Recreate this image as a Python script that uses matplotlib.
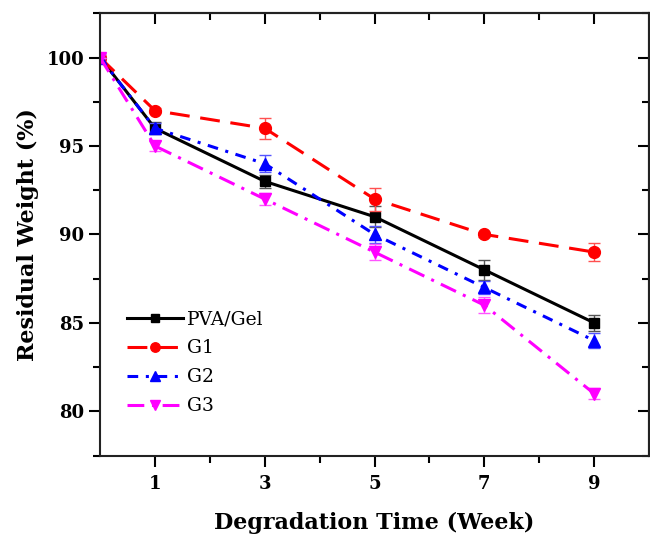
import matplotlib
matplotlib.use("Agg")
import matplotlib.pyplot as plt
from matplotlib.ticker import MultipleLocator, FixedLocator

weeks = [0, 1, 3, 5, 7, 9]
series_names = ["PVA/Gel", "G1", "G2", "G3"]
pva_gel = [100, 96, 93, 91, 88, 85]
g1 = [100, 97, 96, 92, 90, 89]
g2 = [100, 96, 94, 90, 87, 84]
g3 = [100, 95, 92, 89, 86, 81]
pva_gel_err = [0, 0.35, 0.35, 0.6, 0.58, 0.45]
g1_err = [0, 0.15, 0.6, 0.65, 0.15, 0.5]
g2_err = [0, 0.3, 0.5, 0.47, 0.38, 0.45]
g3_err = [0, 0.3, 0.35, 0.47, 0.45, 0.33]
x_tick_labels = ["1", "3", "5", "7", "9"]

plt.rcParams['font.family'] = ['DejaVu Serif']

fig = plt.figure(figsize=(6.5, 5.37), dpi=100)
ax = fig.add_axes([100/650, 1 - 455.5/537, 549/650, (455.5 - 13.3)/537])

styles = [
    dict(color="black", ls="-", marker="s", ms=7.5, ecolor="#555555"),
    dict(color="red", ls=(0, (6.5, 3.5)), marker="o", ms=8.5, ecolor="#ff5050"),
    dict(color="blue", ls=(0, (3.5, 2.5, 1, 2.5)), marker="^", ms=8.5, ecolor="#5555ff"),
    dict(color="magenta", ls=(0, (5.5, 2.5, 1, 2.5)), marker="v", ms=8.5, ecolor="#ff55ff"),
]
data = [pva_gel, g1, g2, g3]
errs = [pva_gel_err, g1_err, g2_err, g3_err]

handles = []
for name, y, e, st in zip(series_names, data, errs, styles):
    ax.errorbar(weeks, y, yerr=e, fmt="none", ecolor=st["ecolor"],
                elinewidth=1.0, capsize=4, capthick=1.0)
    h, = ax.plot(weeks, y, color=st["color"], ls=st["ls"], lw=2.2,
                 marker=st["marker"], ms=st["ms"], label=name)
    handles.append(h)

ax.set_xlim(0, 10)
ax.set_ylim(77.5, 102.5)
ax.xaxis.set_major_locator(FixedLocator([1, 3, 5, 7, 9]))
ax.set_xticklabels(x_tick_labels)
ax.xaxis.set_minor_locator(FixedLocator([2, 4, 6, 8]))
ax.yaxis.set_major_locator(MultipleLocator(5))
ax.yaxis.set_minor_locator(MultipleLocator(2.5))

for sp in ax.spines.values():
    sp.set_linewidth(1.5)
    sp.set_color("#222222")

ax.tick_params(axis="both", which="major", direction="out", length=8, width=1.5,
               labelsize=13)
ax.tick_params(axis="x", which="major", pad=6)
ax.tick_params(axis="both", which="minor", direction="out", length=5, width=1.5)
for lab in ax.get_xticklabels() + ax.get_yticklabels():
    lab.set_fontweight("bold")

# inward ticks on top and right
axt = ax.secondary_xaxis("top")
axt.xaxis.set_major_locator(FixedLocator([1, 3, 5, 7, 9]))
axt.xaxis.set_minor_locator(FixedLocator([2, 4, 6, 8]))
axt.tick_params(which="major", direction="in", length=8, width=1.5, labeltop=False)
axt.tick_params(which="minor", direction="in", length=5, width=1.5)
axr = ax.secondary_yaxis("right")
axr.yaxis.set_major_locator(MultipleLocator(5))
axr.yaxis.set_minor_locator(MultipleLocator(2.5))
axr.tick_params(which="major", direction="in", length=8, width=1.5, labelright=False)
axr.tick_params(which="minor", direction="in", length=5, width=1.5)
for a in (axt, axr):
    for sp in a.spines.values():
        sp.set_linewidth(1.5)
        sp.set_color("#222222")

ax.set_xlabel("Degradation Time (Week)", fontsize=16, fontweight="bold", labelpad=14)
ax.set_ylabel("Residual Weight (%)", fontsize=16, fontweight="bold", labelpad=5)

leg = ax.legend(handles=handles, loc="upper left", bbox_to_anchor=(0.035, 0.345),
                frameon=False, fontsize=13.5, handlelength=3.0, labelspacing=0.58,
                handletextpad=0.2, borderaxespad=0, markerscale=0.8)

fig.savefig("out.png", dpi=100)
